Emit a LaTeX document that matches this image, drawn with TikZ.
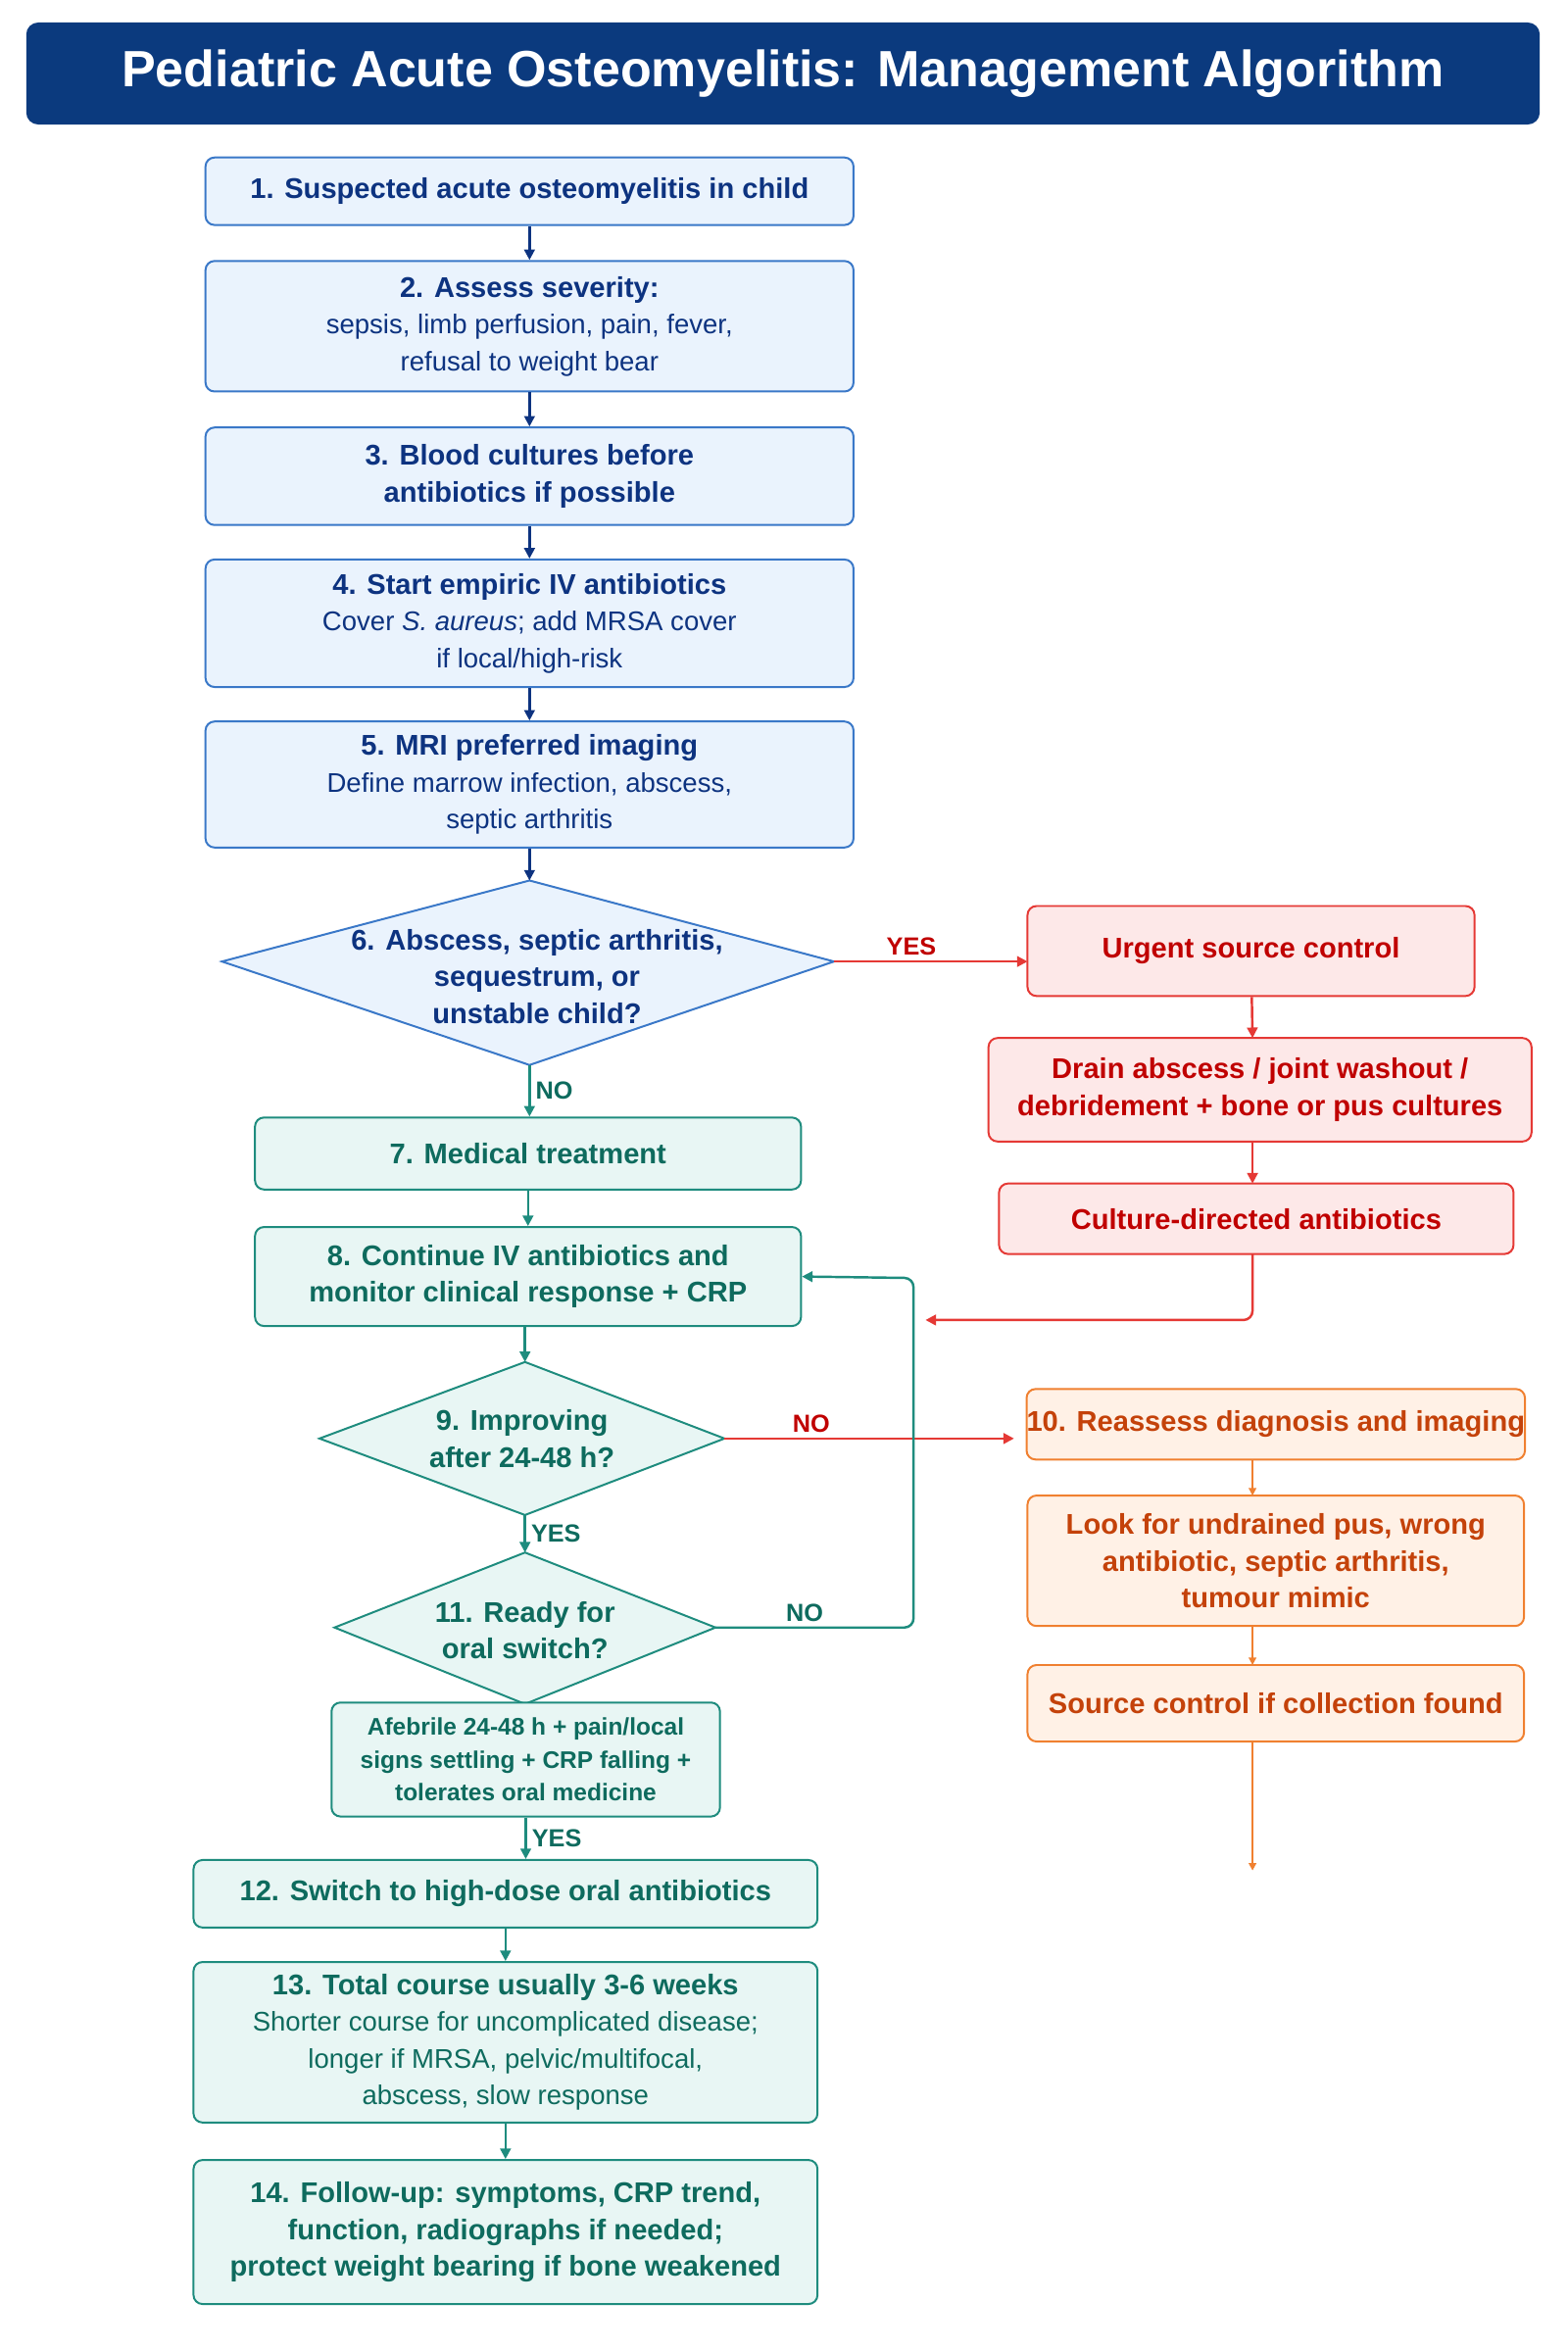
\documentclass[tikz,border=0pt]{standalone}
\usepackage{fontspec}
\setmainfont{Liberation Sans}
\usetikzlibrary{arrows.meta}
\newcommand{\hd}{\fontsize{19}{24.5}\selectfont\bfseries}
\newcommand{\bd}{\fontsize{18}{24.5}\selectfont\mdseries}
\definecolor{tbar}{HTML}{0B3A7E}
\definecolor{bB}{HTML}{3A78C8}\definecolor{bF}{HTML}{EAF3FD}\definecolor{bT}{HTML}{0D3380}
\definecolor{gB}{HTML}{1E8C7E}\definecolor{gF}{HTML}{E8F6F4}\definecolor{gT}{HTML}{0E6B5E}
\definecolor{rB}{HTML}{E53935}\definecolor{rF}{HTML}{FDE8E8}\definecolor{rT}{HTML}{C00000}
\definecolor{oB}{HTML}{F08030}\definecolor{oF}{HTML}{FFF1E6}\definecolor{oT}{HTML}{C4420A}
\begin{document}
\begin{tikzpicture}[x=1pt,y=-1pt,
 bx/.style={draw,rounded corners=6pt,line width=1.3pt,align=center,inner sep=0pt},
 bluebox/.style={bx,draw=bB,fill=bF,text=bT},
 greenbox/.style={bx,draw=gB,fill=gF,text=gT},
 redbox/.style={bx,draw=rB,fill=rF,text=rT},
 orbox/.style={bx,draw=oB,fill=oF,text=oT},
 hds/.style={font=\hd},
 bds/.style={font=\bd},
 arr/.style={-{Triangle[length=7pt,width=7pt]},line width=1.6pt},
 lab/.style={font=\fontsize{16.5}{19}\selectfont\bfseries}]
\useasboundingbox (0,0) rectangle (1045,1568);
\fill[white] (0,0) rectangle (1045,1568);
\node[fill=tbar,rounded corners=8pt,minimum width=1009pt,minimum height=68pt,text=white,font=\fontsize{34}{40}\selectfont\bfseries] (title) at (522,49) {Pediatric Acute Osteomyelitis: Management Algorithm};
\node[bluebox,hds,minimum width=432pt,minimum height=45pt] (n1) at (353,127.5) {1. Suspected acute osteomyelitis in child};
\node[bluebox,bds,minimum width=432pt,minimum height=87pt] (n2) at (353,217.5) {{\hd 2. Assess severity:}\\sepsis, limb perfusion, pain, fever,\\refusal to weight bear};
\node[bluebox,hds,minimum width=432pt,minimum height=65pt] (n3) at (353,317.5) {3. Blood cultures before\\antibiotics if possible};
\node[bluebox,bds,minimum width=432pt,minimum height=85pt] (n4) at (353,415.5) {{\hd 4. Start empiric IV antibiotics}\\Cover \textit{S. aureus}; add MRSA cover\\if local/high-risk};
\node[bluebox,bds,minimum width=432pt,minimum height=84pt] (n5) at (353,523) {{\hd 5. MRI preferred imaging}\\Define marrow infection, abscess,\\septic arthritis};
\coordinate (d6t) at (353,587);\coordinate (d6b) at (353,710);\coordinate (d6l) at (148,641);\coordinate (d6r) at (556,641);
\draw[line width=1.3pt,draw=bB,fill=bF] (d6t)--(d6r)--(d6b)--(d6l)--cycle;
\node[hds,text=bT,align=center] (n6) at (358,651) {6. Abscess, septic arthritis,\\sequestrum, or\\unstable child?};
\node[redbox,hds,minimum width=298pt,minimum height=60pt] (u) at (834,634) {Urgent source control};
\node[redbox,hds,minimum width=362pt,minimum height=69pt] (dr) at (840,726.5) {Drain abscess / joint washout /\\debridement + bone or pus cultures};
\node[redbox,hds,minimum width=343pt,minimum height=47pt] (cu) at (837.5,812.5) {Culture-directed antibiotics};
\node[greenbox,hds,minimum width=364pt,minimum height=48pt] (n7) at (352,769) {7. Medical treatment};
\node[greenbox,hds,minimum width=364pt,minimum height=66pt] (n8) at (352,851) {8. Continue IV antibiotics and\\monitor clinical response + CRP};
\coordinate (d9t) at (350,908);\coordinate (d9b) at (350,1010);\coordinate (d9l) at (213,959);\coordinate (d9r) at (483,959);
\draw[line width=1.3pt,draw=gB,fill=gF] (d9t)--(d9r)--(d9b)--(d9l)--cycle;
\node[hds,text=gT,align=center] (n9) at (348,959) {9. Improving\\after 24-48 h?};
\node[orbox,hds,minimum width=331pt,minimum height=47pt] (n10) at (850.5,949.5) {10. Reassess diagnosis and imaging};
\node[orbox,hds,minimum width=331pt,minimum height=87pt] (lk) at (850.5,1040.5) {Look for undrained pus, wrong\\antibiotic, septic arthritis,\\tumour mimic};
\node[orbox,hds,minimum width=331pt,minimum height=51pt] (sc) at (850.5,1135.5) {Source control if collection found};
\coordinate (oend) at (835,1247);
\coordinate (d11t) at (350,1035);\coordinate (d11b) at (350,1136);\coordinate (d11l) at (223,1085);\coordinate (d11r) at (477,1085);
\draw[line width=1.3pt,draw=gB,fill=gF] (d11t)--(d11r)--(d11b)--(d11l)--cycle;
\node[hds,text=gT,align=center] (n11) at (350,1087) {11. Ready for\\oral switch?};
\node[greenbox,minimum width=259pt,minimum height=76pt,font=\fontsize{16}{22}\selectfont\bfseries] (af) at (350.5,1173) {Afebrile 24-48 h + pain/local\\signs settling + CRP falling +\\tolerates oral medicine};
\node[greenbox,hds,minimum width=416pt,minimum height=45pt] (n12) at (337,1262.5) {12. Switch to high-dose oral antibiotics};
\node[greenbox,bds,minimum width=416pt,minimum height=107pt] (n13) at (337,1361.5) {{\hd 13. Total course usually 3-6 weeks}\\Shorter course for uncomplicated disease;\\longer if MRSA, pelvic/multifocal,\\abscess, slow response};
\node[greenbox,hds,minimum width=416pt,minimum height=96pt] (n14) at (337,1488) {14. Follow-up: symptoms, CRP trend,\\function, radiographs if needed;\\protect weight bearing if bone weakened};
\coordinate (c0) at (685,641);
\coordinate (c1) at (835,692);\coordinate (c2) at (835,761);\coordinate (c3) at (835,789);\coordinate (c4) at (835,836);
\coordinate (c5) at (617,880);\coordinate (c6) at (609,1085);\coordinate (c7) at (609,852);
\coordinate (c8) at (676,959);
\coordinate (o1) at (835,973);\coordinate (o2) at (835,997);\coordinate (o3) at (835,1084);\coordinate (o4) at (835,1110);\coordinate (o5) at (835,1161);
\draw[arr,bT] (n1)--(n2);
\draw[arr,bT] (n2)--(n3);
\draw[arr,bT] (n3)--(n4);
\draw[arr,bT] (n4)--(n5);
\draw[arr,bT] (n5.south)--(d6t);
\draw[arr,rB] (d6r)--node[above,lab,text=rT,pos=0.4]{YES}(c0);
\draw[arr,rB] (u)--(c1);
\draw[arr,rB] (c2)--(c3);
\draw[arr,rB,rounded corners=6pt] (c4)--(835,880)--(c5);
\draw[arr,gB] (d6b)--node[right,lab,text=gT]{NO}(n7.north-|d6b);
\draw[arr,gB] (n7)--(n8);
\draw[arr,gB] (n8.south-|d9t)--(d9t);
\draw[arr,rB] (d9r)--node[above,lab,text=rT,pos=0.3]{NO}(c8);
\draw[arr,gB] (d9b)--node[right,lab,text=gT]{YES}(d11t);
\draw[arr,gB,rounded corners=6pt] (d11r)--node[above,lab,text=gT,pos=0.45]{NO}(c6)--(c7)--(n8.east);
\draw[arr,gB] (af.south)--node[right,lab,text=gT]{YES}(n12.north-|af.south);
\draw[arr,gB] (n12)--(n13);
\draw[arr,gB] (n13)--(n14);
\draw[-{Triangle[length=5pt,width=5pt]},line width=1.2pt,oB] (o1)--(o2);
\draw[-{Triangle[length=5pt,width=5pt]},line width=1.2pt,oB] (o3)--(o4);
\draw[-{Triangle[length=5pt,width=5pt]},line width=1.2pt,oB] (o5)--(oend);
\end{tikzpicture}
\end{document}
